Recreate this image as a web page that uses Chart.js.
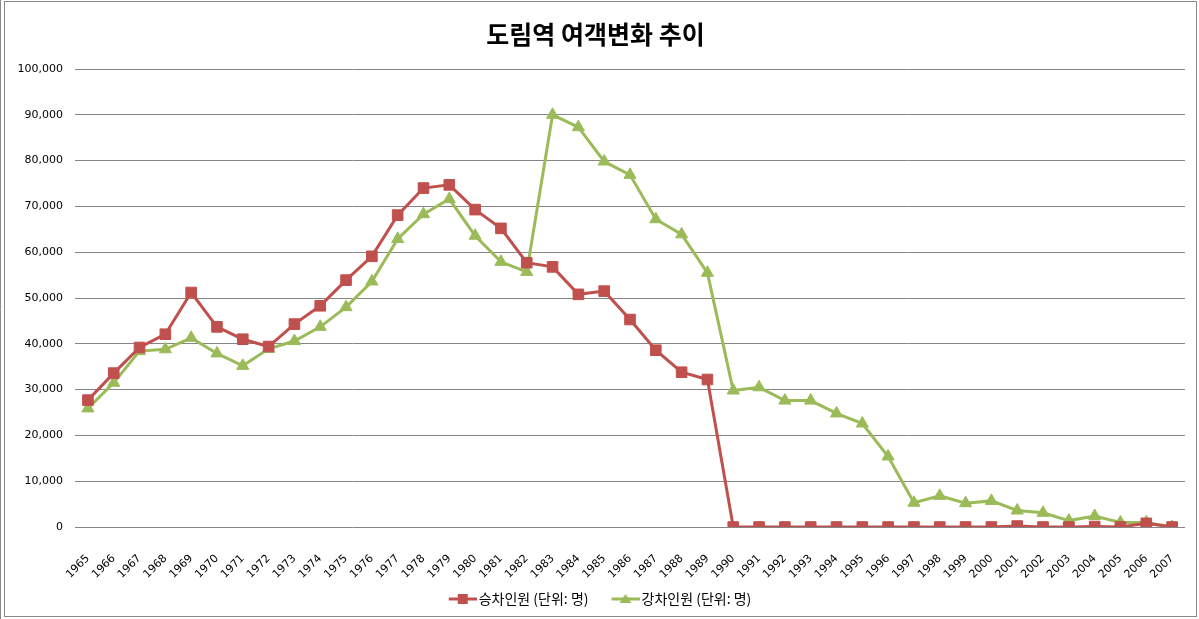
<!DOCTYPE html>
<html>
<head>
<meta charset="utf-8">
<script src="https://cdn.jsdelivr.net/npm/chart.js@4"></script>
<style>
  html, body { margin: 0; padding: 0; background: #fff; }
  #wrap { position: relative; width: 1199px; height: 619px; }
</style>
</head>
<body>
<div id="wrap"><canvas id="stationChart" width="1199" height="619"></canvas></div>
<script>
// Data
const years = [
  "1965", "1966", "1967", "1968", "1969", "1970", "1971", "1972", "1973", "1974",
  "1975", "1976", "1977", "1978", "1979", "1980", "1981", "1982", "1983", "1984",
  "1985", "1986", "1987", "1988", "1989", "1990", "1991", "1992", "1993", "1994",
  "1995", "1996", "1997", "1998", "1999", "2000", "2001", "2002", "2003", "2004",
  "2005", "2006", "2007"
];
const boarding = [
  27700, 33600, 39200, 42100, 51200, 43700, 41000, 39400, 44300, 48300,
  53900, 59100, 68100, 74000, 74700, 69300, 65200, 57700, 56800, 50800,
  51500, 45300, 38600, 33800, 32200, 0, 0, 0, 0, 0,
  0, 0, 0, 0, 0, 0, 200, 0, 0, 100,
  0, 800, 0
];
const alighting = [
  25900, 31500, 38400, 38800, 41300, 37900, 35200, 38900, 40600, 43700,
  48000, 53600, 62900, 68300, 71600, 63600, 57900, 55700, 90000, 87300,
  79800, 76900, 67200, 63900, 55500, 29800, 30500, 27600, 27600, 24800,
  22600, 15400, 5300, 6800, 5200, 5700, 3600, 3100, 1400, 2400,
  1000, 1000, 0
];
const yTicks = [0, 10000, 20000, 30000, 40000, 50000, 60000, 70000, 80000, 90000, 100000];

const RED = "#C0504D";
const GREEN = "#9BBB59";
const FONT = "DejaVu Sans";

// legend swatch: short line with marker in the middle
// (image is wider than the legend box so the line sits close to the text)
function legendSwatch(color, shape) {
  const c = document.createElement("canvas");
  c.width = 42; c.height = 12;
  const g = c.getContext("2d");
  g.strokeStyle = color;
  g.fillStyle = color;
  g.lineWidth = 3;
  g.beginPath();
  g.moveTo(14, 6); g.lineTo(42, 6);
  g.stroke();
  g.beginPath();
  if (shape === "rect") {
    g.rect(23, 1, 10, 10);
  } else {
    g.moveTo(28, 1); g.lineTo(34, 10); g.lineTo(22, 10); g.closePath();
  }
  g.fill();
  return c;
}

// frame around the chart
const framePlugin = {
  id: "frame",
  afterDraw(chart) {
    const ctx = chart.ctx;
    ctx.save();
    ctx.strokeStyle = "#8a8a8a";
    ctx.lineWidth = 1;
    ctx.strokeRect(4.5, 1.5, 1192, 615);
    ctx.beginPath();
    ctx.moveTo(0.5, 0); ctx.lineTo(0.5, 619);
    ctx.stroke();
    ctx.restore();
  }
};

const ctx = document.getElementById("stationChart").getContext("2d");
new Chart(ctx, {
  type: "line",
  data: {
    labels: years,
    datasets: [
      {
        label: "승차인원 (단위: 명)",
        data: boarding,
        borderColor: RED,
        backgroundColor: RED,
        borderWidth: 3,
        pointStyle: "rect",
        pointRadius: 7.5,
        pointBorderWidth: 1,
        tension: 0
      },
      {
        label: "강차인원 (단위: 명)",
        data: alighting,
        borderColor: GREEN,
        backgroundColor: GREEN,
        borderWidth: 3,
        pointStyle: "triangle",
        pointRadius: 7,
        pointBorderWidth: 1,
        tension: 0
      }
    ]
  },
  options: {
    responsive: false,
    animation: false,
    devicePixelRatio: 1,
    layout: { padding: { left: 6, right: 14, top: 0, bottom: 3 } },
    plugins: {
      title: {
        display: true,
        text: "도림역 여객변화 추이",
        color: "#000",
        font: { family: "'Noto Sans CJK KR'", size: 25, weight: "bold" },
        padding: { top: 19, bottom: 20 }
      },
      legend: {
        position: "bottom",
        labels: {
          color: "#000",
          font: { family: "'Noto Sans CJK KR'", size: 14 },
          usePointStyle: true,
          pointStyleWidth: 32,
          padding: 14,
          generateLabels(chart) {
            return chart.data.datasets.map((ds, i) => ({
              text: ds.label,
              fillStyle: ds.borderColor,
              strokeStyle: ds.borderColor,
              lineWidth: 0,
              pointStyle: legendSwatch(ds.borderColor, ds.pointStyle),
              datasetIndex: i,
              hidden: false
            }));
          }
        }
      },
      tooltip: { enabled: false }
    },
    scales: {
      x: {
        offset: true,
        grid: { display: false },
        border: { display: false },
        ticks: {
          color: "#000",
          font: { family: FONT, size: 11 },
          autoSkip: false,
          maxRotation: 45,
          minRotation: 45,
          padding: 17
        },
        afterFit(scale) { scale.height = 51; }
      },
      y: {
        min: 0,
        max: 100000,
        afterBuildTicks(scale) { scale.ticks = yTicks.map(v => ({ value: v })); },
        grid: { color: "#868686", lineWidth: 1, drawTicks: false },
        border: { display: false },
        ticks: {
          color: "#000",
          font: { family: FONT, size: 11 },
          padding: 12,
          callback: v => v.toLocaleString("en-US")
        },
        afterFit(scale) { scale.width = 69; }
      }
    }
  },
  plugins: [framePlugin]
});
</script>
</body>
</html>
